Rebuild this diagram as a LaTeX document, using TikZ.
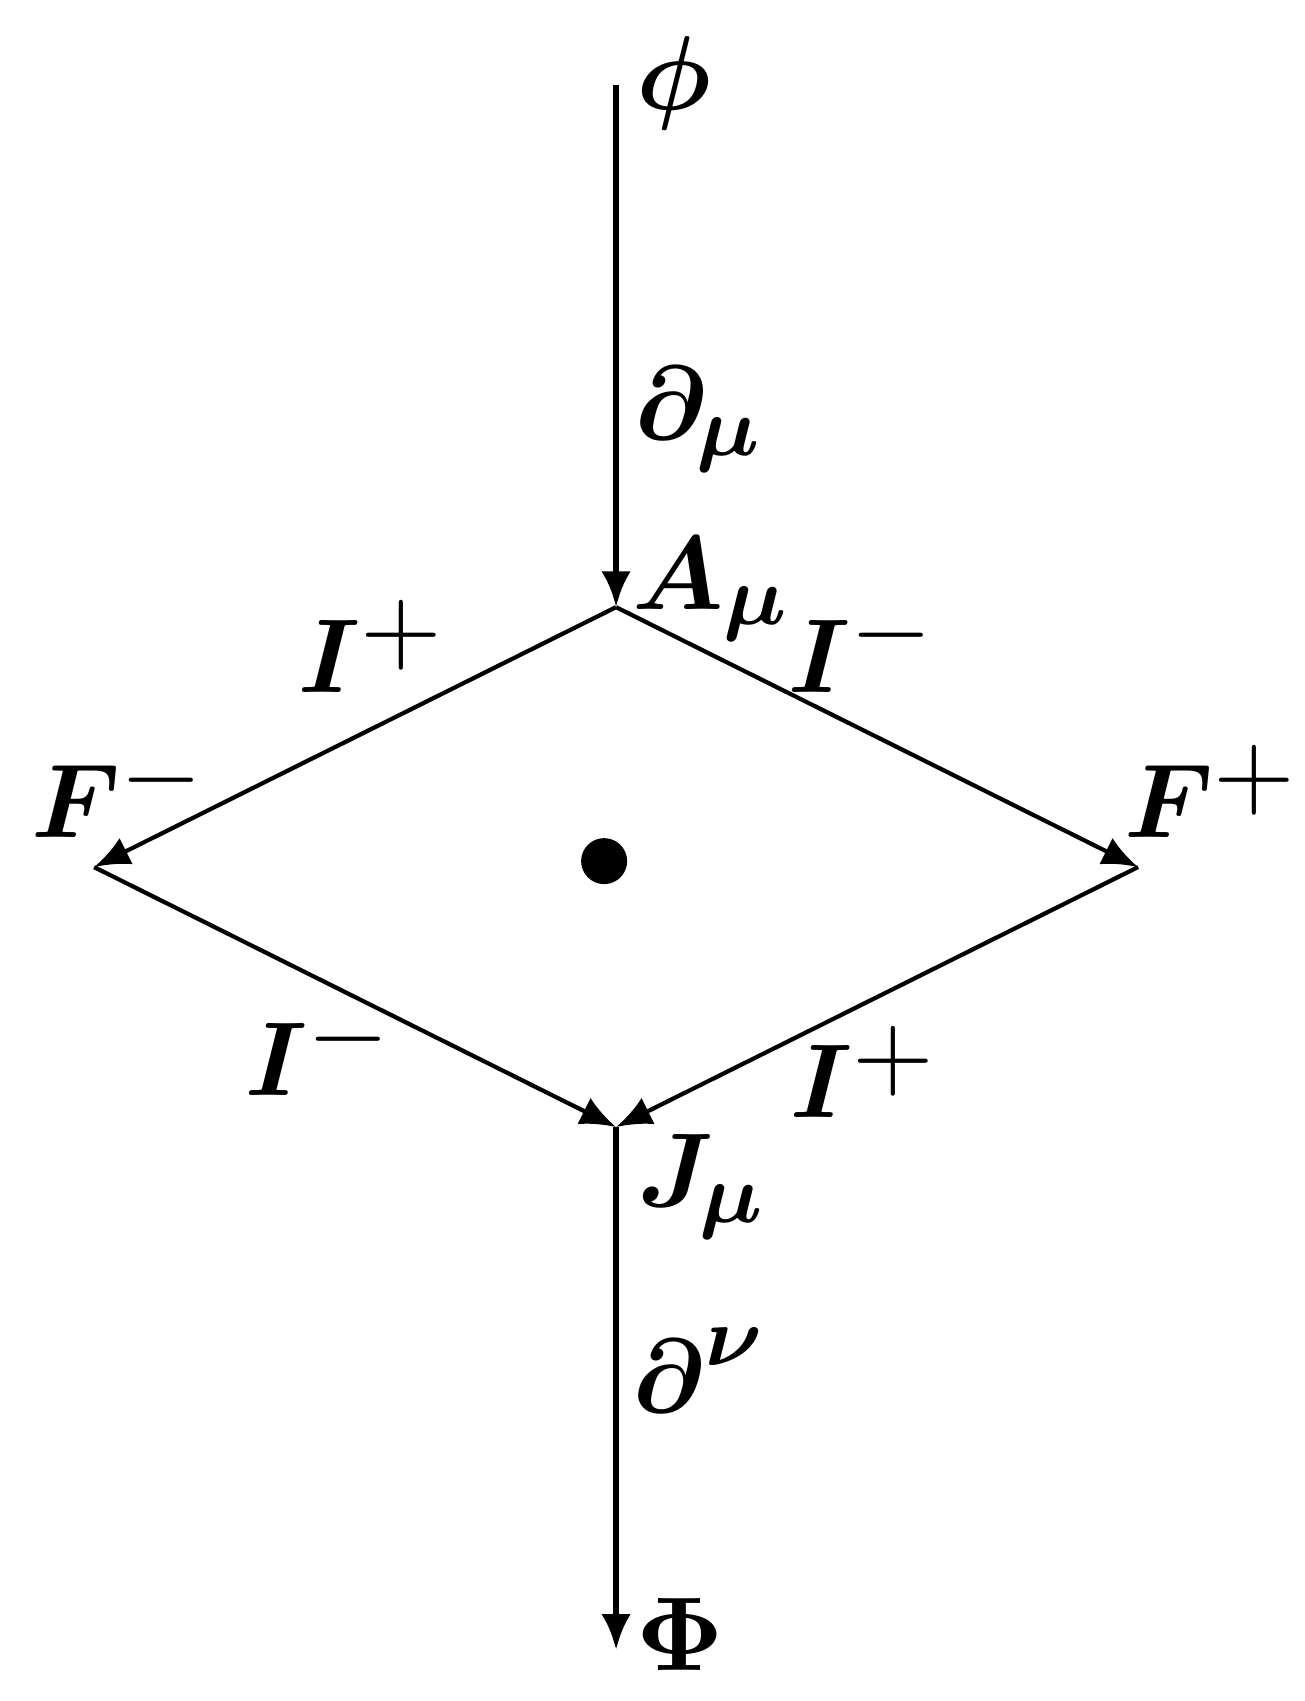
\documentclass[tikz,border=0pt]{standalone}
\usepackage{amssymb}
\usepackage{amsmath}
\usepackage{tikz}
\usetikzlibrary{arrows.meta,calc,positioning}
\newcommand{\bigscript}[1]{\mbox{\fontsize{8.5}{10}\selectfont$#1$}}
\newcommand{\upsign}[1]{\raisebox{2.9pt}{$#1$}}

\tikzset{
  tip/.style={-{Latex[length=3.4pt,width=2.8pt]}},
  axis/.style={semithick,tip},
  side/.style={thin,tip},
  charge/.style={anchor=base},
}

\begin{document}
\begin{tikzpicture}
\useasboundingbox (-2.062,-2.791) rectangle (2.303,2.902);
\coordinate (top) at (0,2.617);
\coordinate (A) at (0,0.870);
\coordinate (Fm) at (-1.747,0);
\coordinate (Fp) at (1.747,0);
\coordinate (J) at (0,-0.870);
\coordinate (bot) at (0,-2.620);
\draw[axis] (top) -- (A);
\draw[side] (A) -- (Fm);
\draw[side] (A) -- (Fp);
\draw[side] (Fm) -- (J);
\draw[side] (Fp) -- (J);
\draw[axis] (J) -- (bot);
\node[circle,fill,inner sep=0pt,minimum size=0.154cm] (dot) at (-0.040,0.020) {};
\node (phi) at (0.194,2.624) {$\boldsymbol{\phi}$};
\node (dmu) at (0.281,1.500) {$\boldsymbol{\partial}_{\kern-1pt\bigscript{\boldsymbol{\mu}}}$};
\node (Amu) at (0.321,0.930) {$\boldsymbol{A}_{\bigscript{\boldsymbol{\mu}}}$};
\node[charge] (Ip1) at (-0.823,0.586) {$\boldsymbol{I}\upsign{+}$};
\node[charge] (Im1) at (0.817,0.586) {$\boldsymbol{I}\upsign{-}$};
\node[charge] (Fmin) at (-1.670,0.100) {$\boldsymbol{F}\upsign{-}$};
\node[charge] (Fplus) at (1.988,0.100) {$\boldsymbol{F}\upsign{+}$};
\node[charge] (Im2) at (-1.001,-0.766) {$\boldsymbol{I}\upsign{-}$};
\node[charge] (Ip2) at (0.825,-0.838) {$\boldsymbol{I}\upsign{+}$};
\node (Jmu) at (0.290,-1.070) {$\boldsymbol{J}_{\kern-1.5pt\bigscript{\boldsymbol{\mu}}}$};
\node (dnu) at (0.281,-1.683) {$\boldsymbol{\partial}^{\bigscript{\boldsymbol{\nu}}}$};
\node (Phi) at (0.214,-2.567) {$\boldsymbol{\Phi}$};
\end{tikzpicture}
\end{document}
